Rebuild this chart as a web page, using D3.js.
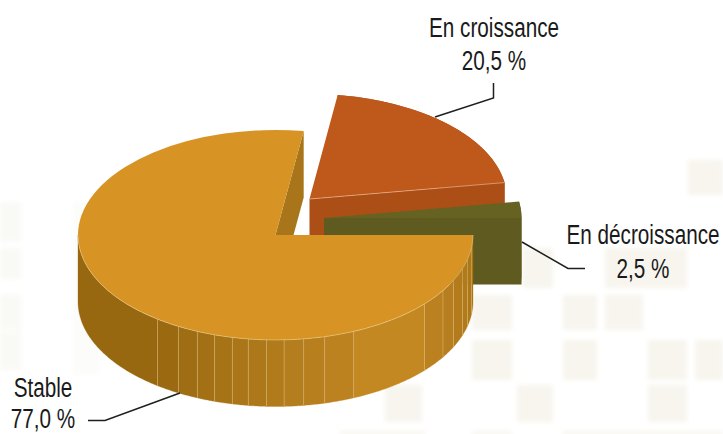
<!DOCTYPE html>
<html><head><meta charset="utf-8">
<script src="https://cdn.jsdelivr.net/npm/d3@7"></script>
<style>html,body{margin:0;padding:0;background:#fff}svg{display:block}
text{font-family:"Liberation Sans",sans-serif;font-size:28px;fill:#1a1a1a}</style>
</head><body><svg id="c" width="723" height="434"></svg>
<script>
// Data
const categories = ["Stable", "En croissance", "En décroissance"];
const values = [77.0, 20.5, 2.5];
const valueLabels = ["77,0 %", "20,5 %", "2,5 %"];
const topColors = ["#d79425", "#be581b", "#666222"];
const sideColors = ["#96670f", "#ac4f16", "#5f5a20"];
// facet boundaries on the rim of the big slice, in degrees clockwise from north
const facetAngles = [90, 97, 103.6, 108.8, 115.7, 122, 131, 156.7, 165.6, 171.8, 177.5, 182.6, 187.9, 192.6, 198, 203.3, 209.4, 216.7, 270];
const shadeAngles = [90, 115, 145, 180, 217, 270];
const shadeColors = ["#a97514", "#b57c1e", "#c58823", "#b17b1c", "#98680f", "#96670f"];
// slice explosions and label anchors
const explode = [[0, 0], [34, -36], [48.5, -17]];
const leaders = [
  [[88, 420.5], [105, 420.5], [180, 393]],
  [[493.5, 83], [493.5, 98], [435, 117]],
  [[522, 242], [568, 268.5], [585, 268.5]]
];
const labelPos = [[43, 397, 43, 428], [494, 37, 494, 70], [643, 244, 643, 278]];
const bgSquares = [
  [0,202,21,40],[0,248,21,31],[0,295,21,35],[0,332,21,38],[73,202,27,173],
  [688,160,35,35],[522,248,31,40],[605,248,82,40],
  [472,295,40,35],[563,295,34,35],[605,295,38,35],
  [472,340,40,40],[563,340,34,40],[648,340,39,40],[695,340,28,40],
  [385,385,37,37],[517,385,36,37],[648,385,39,37],
  [340,431,85,4],[472,431,40,4],[563,431,160,4]
];

const cx = 275.5, cy = 235, rx = 197.5, ry = 105, depth = 66.5;
const rad = d3.scaleLinear().domain([0, 360]).range([0, 2 * Math.PI]);
const svg = d3.select("#c");
const defs = svg.append("defs");
defs.append("filter").attr("id", "soft").append("feGaussianBlur").attr("stdDeviation", 2.2);
svg.append("g").attr("filter", "url(#soft)").selectAll("rect").data(bgSquares).join("rect")
  .attr("x", d => d[0]).attr("y", d => d[1]).attr("width", d => d[2]).attr("height", d => d[3])
  .attr("fill", d => d[0] === 73 ? "#fcfcfa" : d[0] === 0 ? "#f9f9f5" : "#f7f5ee");

const pie = d3.pie().sort(null).startAngle(Math.PI / 2).endAngle(Math.PI / 2 + 2 * Math.PI);
const slices = pie(values);
// the drawn notch sits one degree further round than the stated shares
slices[0].endAngle += rad(1);
slices[1].startAngle += rad(1);
const arcGen = d3.arc().innerRadius(0).outerRadius(rx);
const shade = d3.scaleLinear().domain(shadeAngles).range(shadeColors).clamp(true);

function pt(a, dx, dy, z) { return [cx + dx + rx * Math.sin(a), cy + dy - ry * Math.cos(a) + z]; }
const line = d3.line();
function rim(a0, a1, dx, dy) {
  const n = Math.max(2, Math.ceil(Math.abs(a1 - a0) / 0.01));
  const as = d3.range(n + 1).map(i => a0 + (a1 - a0) * i / n);
  const top = as.map(a => pt(a, dx, dy, 0));
  const bot = as.slice().reverse().map(a => pt(a, dx, dy, depth));
  return line(top.concat(bot)) + "Z";
}
function wall(a, dx, dy) {
  const c = [cx + dx, cy + dy], e = pt(a, dx, dy, 0);
  return line([c, e, [e[0], e[1] + depth], [c[0], c[1] + depth]]) + "Z";
}
function topFace(i) {
  const [dx, dy] = explode[i];
  return svg.append("path").attr("d", arcGen(slices[i]))
    .attr("transform", `translate(${cx + dx},${cy + dy}) scale(1,${ry / rx})`)
    .attr("fill", topColors[i]);
}
function edge(a, dx, dy, col, op) {
  const c = [cx + dx, cy + dy], e = pt(a, dx, dy, 0);
  svg.append("path").attr("d", line([c, e])).attr("stroke", col).attr("stroke-opacity", op).attr("fill", "none");
}

// En croissance
{
  const [dx, dy] = explode[1], s = slices[1];
  svg.append("path").attr("d", wall(s.endAngle, dx, dy)).attr("fill", sideColors[1]);
  svg.append("path").attr("d", rim(s.startAngle, s.endAngle, dx, dy)).attr("fill", sideColors[1]);
  topFace(1);
  edge(s.endAngle, dx, dy, "#e8b08c", 0.7);
}
// En décroissance
{
  const [dx, dy] = explode[2], s = slices[2];
  svg.append("path").attr("d", rim(s.startAngle, s.endAngle, dx, dy)).attr("fill", sideColors[2]);
  svg.append("path").attr("d", wall(s.endAngle, dx, dy)).attr("fill", sideColors[2]);
  topFace(2);
}
// Stable: notch wall, rim facets, top
{
  const s = slices[0], endA = s.endAngle;
  svg.append("path").attr("d", wall(endA, 0, 0)).attr("fill", "#a9751a");
  d3.pairs(facetAngles).forEach(([a0, a1]) => {
    svg.append("path").attr("d", rim(rad(a0), rad(a1), 0, 0))
      .attr("fill", shade((a0 + a1) / 2)).attr("stroke", shade((a0 + a1) / 2)).attr("stroke-width", 0.3);
  });
  facetAngles.slice(1, -1).forEach(a => {
    const p = pt(rad(a), 0, 0, 0);
    svg.append("line").attr("x1", p[0]).attr("x2", p[0]).attr("y1", p[1]).attr("y2", p[1] + depth)
      .attr("stroke", "#e6c384").attr("stroke-opacity", 0.6).attr("stroke-width", 0.8);
  });
  topFace(0);
  const edgePts = d3.range(0, 41).map(i => pt(rad(90 + 180 * i / 40), 0, 0, 0));
  svg.append("path").attr("d", line(edgePts)).attr("fill", "none")
    .attr("stroke", "#f0d49c").attr("stroke-opacity", 0.6).attr("stroke-width", 0.8);
}

// Leaders and labels
svg.append("g").selectAll("path").data(leaders).join("path")
  .attr("d", d => line(d)).attr("fill", "none").attr("stroke", "#1f1f1f").attr("stroke-width", 1.5);
const sx = 0.74;
categories.forEach((c, i) => {
  const p = labelPos[i];
  [[c, p[0], p[1]], [valueLabels[i], p[2], p[3]]].forEach(([t, x, y]) => {
    svg.append("text").attr("text-anchor", "middle")
      .attr("transform", `translate(${x},${y}) scale(${sx},1)`).text(t);
  });
});
</script></body></html>
